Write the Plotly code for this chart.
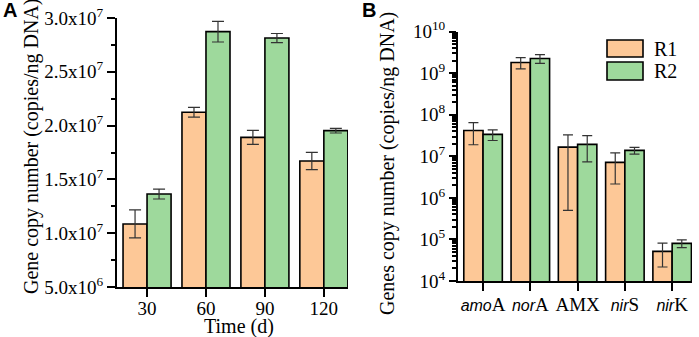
import plotly.graph_objects as go

# ---------- data ----------
days = ["30", "60", "90", "120"]
a_r1 = [1.086e7, 2.124e7, 1.891e7, 1.671e7]
a_r1_err = [1.3e6, 0.46e6, 0.65e6, 0.8e6]
a_r2 = [1.364e7, 2.873e7, 2.814e7, 1.953e7]
a_r2_err = [0.46e6, 0.96e6, 0.42e6, 0.22e6]

genes = ["amoA", "norA", "AMX", "nirS", "nirK"]
IT = "<span style='font-family:Liberation Sans;font-size:16px'><i>%s</i></span>"
gene_labels = [IT % "amo" + "A", IT % "nor" + "A", "AMX", IT % "nir" + "S", IT % "nir" + "K"]
b_r1 = [4.2e7, 1.82e9, 1.67e7, 7.16e6, 5.17e4]
b_r1_err = [2.3e7, 0.55e9, 1.62e7, 5.0e6, 3.0e4]
b_r2 = [3.38e7, 2.27e9, 1.94e7, 1.39e7, 8.06e4]
b_r2_err = [0.97e7, 0.55e9, 1.2e7, 2.6e6, 1.7e4]

a_ticks = [5e6, 1e7, 1.5e7, 2e7, 2.5e7, 3e7]
a_ticktext = ["5.0x10<sup>6</sup>", "1.0x10<sup>7</sup>", "1.5x10<sup>7</sup>",
              "2.0x10<sup>7</sup>", "2.5x10<sup>7</sup>", "3.0x10<sup>7</sup>"]
b_ticks = [1e4, 1e5, 1e6, 1e7, 1e8, 1e9, 1e10]
b_ticktext = ["10<sup>%d</sup>" % e for e in range(4, 11)]

series_names = ["R1", "R2"]
colors = ["#FDC897", "#9ED99C"]
a_xtitle = "Time (d)"
a_ytitle = "Gene copy number (copies/ng DNA)"
b_ytitle = "Genes copy number (copies/ng DNA)"

W, H = 699, 337
FONT = "Liberation Serif"
TICK = 19
TITLE = 20

fig = go.Figure()

def err(arr, w):
    return dict(type="data", array=arr, visible=True, color="#333333", thickness=1.2, width=w)

fig.add_trace(go.Bar(x=days, y=a_r1, name=series_names[0], marker=dict(color=colors[0], line=dict(color="black", width=1.6)),
                     error_y=err(a_r1_err, 6), xaxis="x", yaxis="y", showlegend=False))
fig.add_trace(go.Bar(x=days, y=a_r2, name=series_names[1], marker=dict(color=colors[1], line=dict(color="black", width=1.6)),
                     error_y=err(a_r2_err, 6), xaxis="x", yaxis="y", showlegend=False))
fig.add_trace(go.Bar(x=genes, y=b_r1, name=series_names[0], marker=dict(color=colors[0], line=dict(color="black", width=1.6)),
                     error_y=err(b_r1_err, 5), xaxis="x2", yaxis="y2", showlegend=False))
fig.add_trace(go.Bar(x=genes, y=b_r2, name=series_names[1], marker=dict(color=colors[1], line=dict(color="black", width=1.6)),
                     error_y=err(b_r2_err, 5), xaxis="x2", yaxis="y2", showlegend=False))

axis_common = dict(showline=True, linecolor="black", linewidth=2, ticks="outside", tickcolor="black",
                   tickwidth=2, showgrid=False, zeroline=False, automargin=False, tickangle=0,
                   tickfont=dict(family=FONT, size=TICK, color="black"))

fig.update_layout(
    width=W, height=H, margin=dict(l=0, r=0, t=0, b=0),
    paper_bgcolor="white", plot_bgcolor="white",
    barmode="group", bargap=0.185, bargroupgap=0,
    font=dict(family=FONT, size=TICK, color="black"),
    xaxis=dict(domain=[117 / W, 348 / W], anchor="y", type="category", range=[-0.51, 3.41],
               ticklen=8, ticklabelstandoff=-5, **axis_common),
    yaxis=dict(domain=[1 - 287 / H, 1 - 18 / H], anchor="x", range=[5e6, 3e7],
               tickvals=a_ticks, ticktext=a_ticktext, ticklen=8,
               minor=dict(dtick=2.5e6, tick0=5e6, ticks="outside", ticklen=4, tickcolor="black", tickwidth=2),
               **axis_common),
    xaxis2=dict(domain=[458 / W, 692 / W], anchor="y2", type="category", range=[-0.53, 4.42],
                tickvals=genes, ticktext=gene_labels, ticklen=8, ticklabelstandoff=-3, **axis_common),
    yaxis2=dict(domain=[1 - 281 / H, 1 - 31.7 / H], anchor="x2", type="log", range=[4, 10],
                tickvals=b_ticks, ticktext=b_ticktext, ticklen=7,
                minor=dict(dtick="D1", ticks="outside", ticklen=4, tickcolor="black", tickwidth=1.5),
                **axis_common),
)

def ann(text, x, y, size, family=FONT, angle=0, xanchor="center"):
    fig.add_annotation(text=text, x=x / W, y=1 - y / H, xref="paper", yref="paper", showarrow=False,
                       textangle=angle, xanchor=xanchor, yanchor="middle",
                       font=dict(family=family, size=size, color="black"))

# axis titles
ann(a_xtitle, 239, 326.5, TITLE)
ann(a_ytitle, 31, 147, TITLE, angle=-90)
ann(b_ytitle, 388, 164, TITLE, angle=-90)

# panel labels
ann("<b>A</b>", 10, 10, 20, family="Liberation Sans")
ann("<b>B</b>", 369, 10, 20, family="Liberation Sans")

# legend (panel B)
leg = [(40, 57), (62, 80)]
for i, (t, b) in enumerate(leg):
    fig.add_shape(type="rect", xref="paper", yref="paper", x0=607 / W, x1=643 / W, y0=1 - b / H, y1=1 - t / H,
                  fillcolor=colors[i], line=dict(color="black", width=1.6))
    ann(series_names[i], 652, (t + b) / 2, TITLE, xanchor="left")

fig.write_html("out.html", config={"displayModeBar": False},
               post_script="document.body.style.margin='0px';")
